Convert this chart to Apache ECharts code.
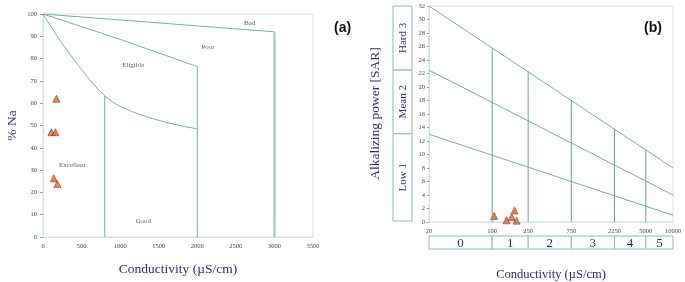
<!DOCTYPE html>
<html>
<head>
<meta charset="utf-8">
<script src="https://cdn.jsdelivr.net/npm/echarts@6/dist/echarts.min.js"></script>
<style>
  html, body { margin: 0; padding: 0; background: #fff; }
  #chart { width: 685px; height: 282px; }
</style>
</head>
<body>
<div id="chart"></div>
<script>
// ---- (a) Wilcox diagram ----
const badLine = [[0, 100], [3000, 92]];
const poorLine = [[0, 100], [1000, 88.6], [2000, 76.4]];
const eligibleLine = [[0, 100], [100, 94.5], [200, 89.2], [300, 84.3], [400, 79.6], [500, 75.1], [600, 70.8],
  [700, 66.8], [800, 63.3], [900, 60.6], [1000, 58.6], [1200, 55.6], [1400, 53.3], [1600, 51.4], [1800, 49.8], [2000, 48.5]];
const wilcoxCuts = [800, 2000, 3000];
const wilcoxCutTops = [63.3, 76.4, 92];
const wilcoxZones = ['Bad', 'Poor', 'Eligible', 'Excellent', 'Good'];
const wilcoxZoneAt = [[2680, 96], [2140, 85], [1170, 77], [380, 32], [1300, 7]];
const samplesEC = [174, 109, 161, 139, 187];
const samplesNa = [62, 47, 47, 26.3, 23.8];

// ---- (b) SAR diagram ----
const condTicks = [20, 100, 250, 750, 2250, 5000, 10000];
const salinityClass = ['0', '1', '2', '3', '4', '5'];
const sodiumClass = ['Low 1', 'Mean 2', 'Hard 3'];
const sodiumBounds = [0, 13, 22.5, 32];
const sarLineStart = [32, 22.5, 13];
const sarLineEnd = [8, 4, 1];
const sarVertTops = [25.8, 22.3, 18.0, 13.8, 10.7];
const samplesCond = [105, 144, 164, 177, 186];
const samplesSAR = [0.9, 0.25, 0.75, 1.7, 0.2];

const navy = '#2d2d70';
const lineCol = '#7aa9a5';
const serif = '"Liberation Serif", "DejaVu Serif", serif';

let chart = echarts.init(document.getElementById('chart'), null, { renderer: 'canvas' });

function lineSeries(data, xi, yi, extra) {
  return Object.assign({
    type: 'line', xAxisIndex: xi, yAxisIndex: yi, data: data,
    symbol: 'none', silent: true,
    lineStyle: { color: lineCol, width: 1 }
  }, extra || {});
}

let series = [];

// (a) boundaries
series.push(lineSeries(badLine, 0, 0));
series.push(lineSeries(poorLine, 0, 0, { smooth: 0.2 }));
series.push(lineSeries(eligibleLine, 0, 0, { smooth: 0.3 }));
wilcoxCuts.forEach((c, i) => {
  series.push(lineSeries([[c, 0], [c, wilcoxCutTops[i]]], 0, 0,
    i === 2 ? { lineStyle: { color: '#9dbdbb', width: 2 } } : {}));
});
series.push({
  type: 'scatter', xAxisIndex: 0, yAxisIndex: 0, symbolSize: 0, silent: true,
  data: wilcoxZoneAt,
  label: {
    show: true, position: 'inside', color: '#333', fontFamily: serif, fontSize: 7,
    formatter: p => wilcoxZones[p.dataIndex]
  }
});
series.push({
  type: 'scatter', xAxisIndex: 0, yAxisIndex: 0, symbol: 'triangle', symbolSize: 7,
  data: samplesEC.map((v, i) => [v, samplesNa[i]]),
  itemStyle: { color: '#d9692c', borderColor: '#7a3210', borderWidth: 0.7 }
});

// (b) lines
sarLineStart.forEach((s, i) => {
  series.push(lineSeries([[condTicks[0], s], [condTicks[condTicks.length - 1], sarLineEnd[i]]], 1, 1));
});
condTicks.slice(1, -1).forEach((c, i) => {
  series.push(lineSeries([[c, 0], [c, sarVertTops[i]]], 1, 1, { lineStyle: { color: '#6f9c98', width: 1 } }));
});
series.push({
  type: 'scatter', xAxisIndex: 1, yAxisIndex: 1, symbol: 'triangle', symbolSize: 7,
  data: samplesCond.map((v, i) => [v, samplesSAR[i]]),
  itemStyle: { color: '#d9692c', borderColor: '#7a3210', borderWidth: 0.7 }
});

// (b) salinity strip
series.push({
  type: 'custom', xAxisIndex: 2, yAxisIndex: 2, silent: true,
  data: salinityClass.map((s, i) => [condTicks[i], condTicks[i + 1]]),
  renderItem: function (params, api) {
    const a = api.coord([api.value(0), 1]);
    const b = api.coord([api.value(1), 0]);
    return {
      type: 'group', children: [
        { type: 'rect', shape: { x: a[0], y: a[1], width: b[0] - a[0], height: b[1] - a[1] },
          style: { fill: '#fff', stroke: '#8fb8b5', lineWidth: 1 } },
        { type: 'text', style: { text: salinityClass[params.dataIndex], x: (a[0] + b[0]) / 2, y: (a[1] + b[1]) / 2 + 1,
          align: 'center', verticalAlign: 'middle', fontFamily: serif, fontSize: 13, fill: navy } }
      ]
    };
  }
});

// (b) sodium strip
series.push({
  type: 'custom', xAxisIndex: 3, yAxisIndex: 3, silent: true,
  data: sodiumClass.map((s, i) => [sodiumBounds[i], sodiumBounds[i + 1]]),
  renderItem: function (params, api) {
    const a = api.coord([0, api.value(1)]);
    const b = api.coord([1, api.value(0)]);
    return {
      type: 'group', children: [
        { type: 'rect', shape: { x: a[0], y: a[1], width: b[0] - a[0], height: b[1] - a[1] },
          style: { fill: '#fff', stroke: '#8fb8b5', lineWidth: 1 } },
        { type: 'text', x: (a[0] + b[0]) / 2 + 1, y: (a[1] + b[1]) / 2, rotation: Math.PI / 2,
          style: { text: sodiumClass[params.dataIndex], x: 0, y: 0, align: 'center', verticalAlign: 'middle',
            fontFamily: serif, fontSize: 11, fill: navy } }
      ]
    };
  }
});

const tickLabel = { fontFamily: serif, fontSize: 6.5, color: '#444', formatter: v => String(v) };
const cyanAxis = { show: true, lineStyle: { color: '#c7e6ec', width: 1 } };

let option = {
  animation: false,
  backgroundColor: '#fff',
  title: [
    { text: '(a)', left: 329, top: 16, textStyle: { fontFamily: '"Liberation Sans", Arial', fontSize: 14, fontWeight: 'bold', color: '#111' } },
    { text: '(b)', left: 639, top: 16, textStyle: { fontFamily: '"Liberation Sans", Arial', fontSize: 14, fontWeight: 'bold', color: '#111' } }
  ],
  grid: [
    { left: 43, top: 14, width: 270, height: 223, show: true, borderColor: '#dddddd', borderWidth: 1 },
    { left: 429, top: 6, width: 244, height: 216, show: true, borderColor: '#dddddd', borderWidth: 1 },
    { left: 429, top: 236, width: 244, height: 16 },
    { left: 393, top: 6, width: 19, height: 215 }
  ],
  xAxis: [
    { type: 'value', gridIndex: 0, min: 0, max: 3500, interval: 500,
      axisLine: cyanAxis, axisTick: { show: false }, splitLine: { show: false },
      axisLabel: Object.assign({ margin: 6 }, tickLabel),
      name: 'Conductivity (µS/cm)', nameLocation: 'middle', nameGap: 25,
      nameTextStyle: { fontFamily: serif, fontSize: 13.5, color: navy } },
    { type: 'log', gridIndex: 1, min: 20, max: 10000, logBase: 10,
      axisLine: cyanAxis, axisTick: { show: false }, splitLine: { show: false },
      axisLabel: Object.assign({ margin: 6, customValues: condTicks }, tickLabel) },
    { type: 'log', gridIndex: 2, min: 20, max: 10000, logBase: 10,
      axisLine: { show: false }, axisTick: { show: false }, splitLine: { show: false }, axisLabel: { show: false },
      name: 'Conductivity (µS/cm)', nameLocation: 'middle', nameGap: 19,
      nameTextStyle: { fontFamily: serif, fontSize: 12.5, color: navy } },
    { type: 'value', gridIndex: 3, min: 0, max: 1, show: false }
  ],
  yAxis: [
    { type: 'value', gridIndex: 0, min: 0, max: 100, interval: 10,
      axisLine: cyanAxis, axisTick: { show: true, length: 3, lineStyle: { color: '#999' } }, splitLine: { show: false },
      axisLabel: Object.assign({ margin: 6 }, tickLabel),
      name: '% Na', nameLocation: 'middle', nameGap: 24,
      nameTextStyle: { fontFamily: serif, fontSize: 13.5, color: navy } },
    { type: 'value', gridIndex: 1, min: 0, max: 32, interval: 2,
      axisLine: cyanAxis, axisTick: { show: true, length: 2, lineStyle: { color: '#999' } }, splitLine: { show: false },
      axisLabel: Object.assign({ margin: 4 }, tickLabel) },
    { type: 'value', gridIndex: 2, min: 0, max: 1, show: false },
    { type: 'value', gridIndex: 3, min: 0, max: 32,
      axisLine: { show: false }, axisTick: { show: false }, splitLine: { show: false }, axisLabel: { show: false },
      name: 'Alkalizing power [SAR]', nameLocation: 'middle', nameGap: 11,
      nameTextStyle: { fontFamily: serif, fontSize: 13.5, color: navy } }
  ],
  series: series
};

chart.setOption(option);
</script>
</body>
</html>
